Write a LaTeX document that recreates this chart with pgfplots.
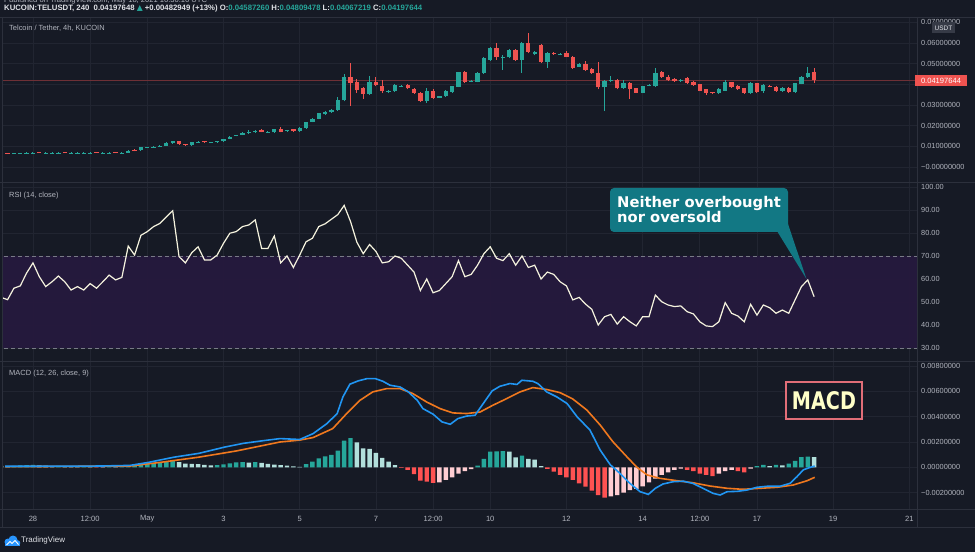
\documentclass[border=0pt]{standalone}
\usepackage{fontspec}
\setmainfont{Liberation Sans}
\newfontfamily\dejavu{DejaVu Sans}
\usepackage{graphicx}
\usepackage{pgfplots}
\pgfplotsset{compat=1.18}
\usepackage{pgfplotstable}

\definecolor{bg}{RGB}{22,26,37}
\definecolor{gridc}{RGB}{33,37,49}
\definecolor{sep}{RGB}{44,48,60}
\definecolor{txt}{RGB}{178,181,190}
\definecolor{hdr}{RGB}{225,227,232}
\definecolor{up}{RGB}{38,166,154}
\definecolor{down}{RGB}{239,83,80}
\definecolor{uplight}{RGB}{178,223,219}
\definecolor{downlight}{RGB}{255,205,210}
\definecolor{downhist}{RGB}{255,82,82}
\definecolor{band}{RGB}{38,25,62}
\definecolor{dashc}{RGB}{120,123,134}
\definecolor{rsiline}{RGB}{245,243,222}
\definecolor{macdblue}{RGB}{33,150,243}
\definecolor{macdorange}{RGB}{240,120,30}
\definecolor{callout}{RGB}{18,120,132}
\definecolor{boxred}{RGB}{225,110,120}
\definecolor{macdtxt}{RGB}{255,255,200}
\definecolor{pline}{RGB}{110,48,54}
\definecolor{tvblue}{RGB}{41,150,255}
\definecolor{badge}{RGB}{54,58,70}

% candles: index (4h bars, 0 = 28 Apr 00:00), open, high, low, close
\pgfplotstableread{
i o h l c
-3 .0066 .0069 .0065 .0068
-2 .0067 .0070 .0066 .0069
-1 .0068 .0071 .0067 .0070
0 .0068 .0071 .0067 .0070
2 .0068 .0071 .0067 .0070
3 .0068 .0071 .0067 .0070
4 .0068 .0071 .0067 .0070
6 .0068 .0071 .0067 .0070
7 .0068 .0071 .0067 .0070
8 .0068 .0071 .0067 .0070
9 .0068 .0071 .0067 .0070
11 .0068 .0071 .0067 .0070
12 .0068 .0071 .0067 .0070
14 .0068 .0071 .0067 .0070
15 .0070 .0081 .0069 .0079
17 .0080 .0098 .0079 .0095
18 .0093 .0099 .0091 .0096
19 .0096 .0101 .0094 .0099
20 .0099 .0106 .0097 .0104
21 .0104 .0121 .0102 .0118
22 .0115 .0128 .0113 .0126
25 .0106 .0123 .0104 .0121
26 .0120 .0125 .0118 .0123
28 .0118 .0122 .0116 .0120
29 .0120 .0126 .0118 .0124
30 .0124 .0136 .0122 .0134
31 .0137 .0148 .0135 .0146
32 .0150 .0157 .0148 .0154
33 .0155 .0167 .0153 .0165
34 .0165 .0178 .0160 .0168
35 .0168 .0178 .0166 .0176
37 .0167 .0172 .0165 .0170
38 .0168 .0184 .0166 .0182
40 .0173 .0180 .0171 .0178
42 .0172 .0192 .0170 .0190
43 .0188 .0220 .0186 .0218
44 .0218 .0235 .0216 .0232
45 .0232 .0262 .0230 .0260
46 .0255 .0272 .0252 .0268
47 .0266 .0282 .0262 .0276
48 .0276 .0340 .0272 .0322
49 .0322 .0450 .0318 .0437
53 .0355 .0440 .0348 .0410
56 .0365 .0374 .0360 .0370
57 .0368 .0400 .0362 .0397
58 .0389 .0395 .0386 .0393
62 .0318 .0380 .0312 .0370
64 .0336 .0345 .0333 .0342
65 .0345 .0372 .0340 .0367
66 .0362 .0392 .0358 .0390
67 .0387 .0462 .0385 .0460
69 .0413 .0420 .0410 .0418
70 .0412 .0458 .0410 .0455
71 .0455 .0530 .0452 .0528
72 .0518 .0580 .0515 .0576
74 .0528 .0540 .0470 .0532
75 .0530 .0570 .0526 .0566
77 .0520 .0605 .0455 .0600
79 .0545 .0562 .0540 .0557
81 .0510 .0555 .0480 .0550
83 .0545 .0552 .0540 .0549
86 .0485 .0503 .0483 .0500
90 .0385 .0420 .0270 .0416
91 .0417 .0440 .0410 .0421
93 .0380 .0420 .0377 .0406
96 .0360 .0393 .0357 .0390
97 .0393 .0400 .0390 .0397
98 .0390 .0480 .0387 .0455
102 .0417 .0425 .0412 .0421
108 .0358 .0380 .0355 .0375
109 .0370 .0420 .0367 .0410
113 .0358 .0409 .0354 .0405
115 .0366 .0400 .0360 .0397
118 .0368 .0385 .0365 .0382
120 .0363 .0408 .0360 .0405
121 .0402 .0440 .0400 .0436
122 .0436 .0482 .0432 .0455
}\greenc

\pgfplotstableread{
i o h l c
-4 .0068 .0069 .0065 .0066
1 .0072 .0073 .0068 .0069
5 .0072 .0073 .0068 .0069
10 .0072 .0073 .0068 .0069
13 .0071 .0072 .0067 .0068
16 .0083 .0085 .0076 .0079
23 .0124 .0127 .0108 .0110
24 .0110 .0112 .0104 .0106
27 .0124 .0126 .0117 .0119
36 .0180 .0182 .0168 .0170
39 .0183 .0195 .0168 .0170
41 .0182 .0184 .0170 .0172
50 .0437 .0503 .0295 .0407
51 .0410 .0425 .0360 .0373
52 .0380 .0385 .0330 .0355
54 .0412 .0435 .0390 .0395
55 .0392 .0420 .0360 .0366
59 .0395 .0400 .0376 .0380
60 .0378 .0382 .0355 .0360
61 .0360 .0362 .0315 .0320
63 .0370 .0375 .0330 .0335
68 .0460 .0465 .0408 .0412
73 .0576 .0600 .0520 .0530
76 .0566 .0570 .0515 .0520
78 .0600 .0650 .0550 .0557
80 .0590 .0595 .0505 .0510
82 .0551 .0555 .0542 .0547
84 .0553 .0560 .0530 .0533
85 .0533 .0536 .0476 .0480
87 .0500 .0515 .0466 .0470
88 .0474 .0478 .0452 .0455
89 .0455 .0510 .0375 .0385
92 .0420 .0428 .0376 .0380
94 .0406 .0412 .0330 .0375
95 .0380 .0383 .0357 .0360
99 .0460 .0463 .0432 .0436
100 .0436 .0445 .0416 .0420
101 .0428 .0432 .0412 .0415
103 .0430 .0434 .0403 .0406
104 .0410 .0414 .0392 .0395
105 .0400 .0404 .0366 .0370
106 .0375 .0378 .0348 .0358
107 .0362 .0365 .0352 .0358
110 .0410 .0413 .0384 .0387
111 .0392 .0396 .0374 .0378
112 .0380 .0383 .0354 .0358
114 .0405 .0408 .0358 .0363
116 .0393 .0396 .0387 .0389
117 .0387 .0390 .0364 .0368
119 .0382 .0385 .0360 .0363
123 .04587 .04809 .04067 .04197644
}\redc

\pgfplotstableread{
i v
-5 52
-4 51
-3 56
-2 57
-1 62.6
0 67
1 61
2 56.7
3 58.8
4 61.3
5 58.8
6 55.2
7 56.7
8 55.2
9 58
10 56
11 58.8
12 61.7
13 59.6
14 60.7
15 74.3
16 70.4
17 79
18 80.6
19 82.8
20 84.2
21 87
22 89.7
23 69.7
24 67
25 71.4
26 74
27 68.3
28 68.3
29 70.4
30 75.5
31 79.9
32 80.6
33 82.8
34 83.5
35 85.7
36 73.3
37 73.3
38 78.7
39 67
40 70
41 65
42 70.4
43 76.2
44 77.7
45 82.8
46 84
47 86
48 88
49 92
50 85
51 76
52 71
53 75
54 72
55 67
56 67.5
57 70
58 69
59 66
60 63
61 55
62 60
63 54
64 55
65 58
66 61
67 68
68 61
69 62
70 66
71 71
72 74
73 69
74 68
75 71
76 66
77 70
78 65
79 66
80 60
81 63
82 62
83 58.8
84 57
85 50.9
86 52
87 49.1
88 46.8
89 40
90 43.6
91 44.6
92 40.4
93 43.6
94 41.4
95 39.6
96 43.6
97 43.6
98 53
99 50.1
100 48.7
101 48
102 48.3
103 45.8
104 44.8
105 41.4
106 39.6
107 39.3
108 41.4
109 49.7
110 45.1
111 43.9
112 41.4
113 49
114 44.3
115 48.7
116 47.5
117 45.1
118 46.5
119 45.1
120 50.9
121 56.7
122 59.6
123 52.3
}\rsi

\pgfplotsset{
 tvpanel/.style={
  scale only axis, width=914bp,
  xmin=-4.72, xmax=139.2,
  axis line style={draw=none},
  major tick length=0pt,
  tick style={draw=none},
  scaled y ticks=false, scaled x ticks=false,
  ymajorgrids,
  grid style={draw=gridc, line width=0.7bp},
  yticklabel pos=right,
  yticklabel style={font=\fontsize{7.4}{8}\selectfont, text=txt, anchor=west, inner sep=0pt, xshift=4bp},
  axis background/.style={fill=bg},
 },
 upperpanel/.style={tvpanel, xtick=\empty},
 wick/.style={draw=none, mark=none, error bars/.cd, y dir=plus, y explicit, error mark=none, error bar style={draw=#1, line width=1bp}},
 body/.style={draw=none, mark=none, error bars/.cd, y dir=plus, y explicit, error mark=none, error bar style={draw=#1, line width=4.3bp}},
 hist/.style={ybar, bar width=0.7, bar shift=0pt, fill=#1, draw=none},
}
% vertical time grid for the upper panels (same positions as the time ticks)
\newcommand\timegrid[2]{%
  \pgfplotsinvokeforeach{0,9,18,30,42,54,63,72,84,96,105,114,126,138}{%
    \draw[gridc, line width=0.7bp] (axis cs:##1,#1) -- (axis cs:##1,#2);}}

\begin{document}
\begin{tikzpicture}
\useasboundingbox (0bp,0bp) rectangle (975bp,552bp);
\clip (0bp,0bp) rectangle (975bp,552bp);
\fill[bg] (0bp,0bp) rectangle (975bp,552bp);

% ---------- price panel ----------
\begin{axis}[upperpanel, at={(3bp,369bp)}, anchor=south west, height=165bp,
  ymin=-0.00774, ymax=0.0721,
  ytick={0,0.01,0.02,0.03,0.04,0.05,0.06,0.07},
  yticklabels={−0.00000000,0.01000000,0.02000000,0.03000000,{},0.05000000,0.06000000,0.07000000}]
\timegrid{-0.01}{0.08}
\addplot[pline, line width=0.6bp] coordinates {(-5,0.04197644) (140,0.04197644)};
\addplot[wick=up] table[x=i, y=l, y error plus expr=\thisrow{h}-\thisrow{l}] {\greenc};
\addplot[wick=down] table[x=i, y=l, y error plus expr=\thisrow{h}-\thisrow{l}] {\redc};
\addplot[body=up] table[x=i, y=o, y error plus expr=\thisrow{c}-\thisrow{o}] {\greenc};
\addplot[body=down] table[x=i, y=c, y error plus expr=\thisrow{o}-\thisrow{c}] {\redc};
\end{axis}

% ---------- RSI panel ----------
\begin{axis}[upperpanel, at={(3bp,190bp)}, anchor=south west, height=179bp,
  ymin=23.91, ymax=101.74,
  ytick={30,40,50,60,70,80,90,100},
  yticklabels={30.00,40.00,50.00,60.00,70.00,80.00,90.00,100.00}]
\timegrid{20}{105}
\addplot[fill=band, draw=none, fill opacity=0.92] coordinates {(-10,30) (150,30) (150,70) (-10,70) (-10,30)};
\addplot[dashc, line width=0.8bp, dash pattern=on 4bp off 3bp] coordinates {(-10,70) (150,70)};
\addplot[dashc, line width=0.8bp, dash pattern=on 4bp off 3bp] coordinates {(-10,30) (150,30)};
\addplot[rsiline, line width=1.2bp] table[x=i, y=v] {\rsi};
\end{axis}

% ---------- MACD panel ----------
\begin{axis}[tvpanel, at={(3bp,42bp)}, anchor=south west, height=148bp,
  ymin=-0.003375, ymax=0.008324,
  ytick={-0.002,0,0.002,0.004,0.006,0.008},
  yticklabels={−0.00200000,0.00000000,0.00200000,0.00400000,0.00600000,0.00800000},
  xmajorgrids,
  xtick={0,9,18,30,42,54,63,72,84,96,105,114,126,138},
  xticklabels={28,12:00,May,3,5,7,12:00,10,12,14,12:00,17,19,21},
  xticklabel style={font=\fontsize{7.6}{8}\selectfont, text=txt, anchor=center, inner sep=0pt, yshift=-9bp}]
\addplot[hist=up] coordinates {(-3,0.00012) (-2,0.00015) (-1,0.00018) (0,0.0002) (4,0.00011) (8,0.00007) (12,0.00004) (14,0.00005) (15,0.00012) (16,0.00015) (17,0.00025) (18,0.0003) (19,0.00035) (20,0.0004) (21,0.00048) (22,0.00055) (29,0.00018) (30,0.00024) (31,0.00032) (32,0.00038) (33,0.0004) (35,0.0004) (43,0.00026) (44,0.00045) (45,0.00071) (46,0.00087) (47,0.00098) (48,0.00132) (49,0.00211) (50,0.0023) (70,0.00013) (71,0.00066) (72,0.00124) (73,0.00126) (74,0.00128) (77,0.00092) (114,0.0001) (115,0.0002) (117,0.0002) (119,0.0003) (120,0.0005) (121,0.0008) (122,0.00085)};
\addplot[hist=uplight] coordinates {(-5,0.00012) (-4,0.0001) (1,0.00016) (2,0.00013) (3,0.0001) (5,0.00009) (6,0.00007) (7,0.00006) (9,0.00005) (13,0.00003) (23,0.0004) (24,0.0003) (25,0.00028) (26,0.00026) (27,0.0002) (28,0.00015) (34,0.00036) (36,0.00035) (37,0.00028) (38,0.00022) (39,0.00018) (40,0.00013) (41,0.00008) (42,0.00003) (51,0.00198) (52,0.0015) (53,0.00145) (54,0.00114) (55,0.00074) (56,0.00045) (57,0.00018) (75,0.00124) (76,0.00079) (78,0.00066) (79,0.0006) (80,0.0001) (116,0.0001) (118,0.00015) (123,0.0008)};
\addplot[hist=downhist] coordinates {(10,-0.00003) (58,-0.00004) (59,-0.00021) (60,-0.00053) (61,-0.00106) (62,-0.00113) (63,-0.00124) (81,-0.00013) (82,-0.00034) (83,-0.0006) (84,-0.0008) (85,-0.001) (86,-0.00127) (87,-0.00153) (88,-0.00185) (89,-0.00219) (90,-0.0024) (103,-0.0002) (104,-0.0003) (105,-0.0005) (106,-0.0006) (107,-0.0007) (111,-0.0003) (112,-0.0004)};
\addplot[hist=downlight] coordinates {(11,-0.00002) (64,-0.0012) (65,-0.001) (66,-0.0008) (67,-0.0005) (68,-0.0003) (69,-0.00015) (91,-0.0023) (92,-0.0022) (93,-0.002) (94,-0.0018) (95,-0.0017) (96,-0.0015) (97,-0.0012) (98,-0.0009) (99,-0.0006) (100,-0.0004) (101,-0.0002) (102,-0.0001) (108,-0.0005) (109,-0.0003) (110,-0.0002) (113,-0.0001)};
\addplot[macdorange, line width=1.6bp] coordinates {(-4.4,0.00005) (15.3,0.0001) (20.2,0.0004) (26.1,0.0008) (32.1,0.0013) (38.9,0.002) (42,0.00215) (44.1,0.00235) (47.2,0.00306) (49.4,0.00425) (51.5,0.0053) (53.5,0.00596) (55.7,0.00622) (57.8,0.00622) (59.8,0.00583) (62,0.00516) (64.1,0.00464) (66.1,0.0043) (68.3,0.00425) (70.4,0.00437) (72.4,0.0049) (74.6,0.00543) (76.7,0.00596) (78.7,0.0063) (80.9,0.00615) (83,0.0059) (85,0.0054) (87.2,0.00453) (89.3,0.00335) (91.3,0.00203) (93.5,0.00084) (95.1,0) (96.7,-0.0006) (98.7,-0.00087) (101.4,-0.00106) (103.9,-0.00122) (106.6,-0.00148) (109.3,-0.00166) (111.8,-0.00174) (114.5,-0.00166) (117.2,-0.00158) (119.7,-0.0014) (121.9,-0.00106) (123.1,-0.00079)};
\addplot[macdblue, line width=1.6bp] coordinates {(-4.4,0.00008) (10.6,0.0001) (15.3,0.00015) (18.3,0.0004) (22.2,0.0008) (26.1,0.0011) (30.2,0.0016) (33.2,0.0019) (36.2,0.0021) (38.9,0.00227) (42,0.0022) (44.1,0.00266) (46.3,0.00346) (47.9,0.00425) (48.8,0.00556) (49.9,0.00657) (51.2,0.00683) (52.6,0.00701) (53.9,0.00701) (55.1,0.0068) (56.2,0.00649) (57.8,0.00635) (59.1,0.00596) (60.5,0.0053) (61.4,0.00464) (63,0.0042) (64.4,0.00359) (65.7,0.0034) (66.9,0.00385) (68.3,0.00405) (69.6,0.00411) (70.9,0.00504) (72.3,0.00604) (73.5,0.0064) (75.1,0.00662) (76.2,0.00655) (77,0.00688) (78.7,0.0068) (79.5,0.00662) (80.9,0.00596) (82.5,0.00556) (84.1,0.00504) (85.7,0.00398) (87.7,0.00295) (89.3,0.00137) (90.9,0.0002) (92.4,-0.00047) (94,-0.00127) (95.6,-0.00193) (96.9,-0.00214) (98,-0.00166) (99.2,-0.00132) (100.8,-0.00114) (102.4,-0.0011) (103.9,-0.00127) (105.5,-0.00166) (107.1,-0.00206) (108.2,-0.00219) (109.3,-0.00193) (110.9,-0.0019) (112.4,-0.0018) (114,-0.00158) (115.6,-0.0015) (117.6,-0.0015) (119.2,-0.00127) (120.3,-0.00074) (121.3,-0.0002) (122.4,0) (123.1,0.0001)};
\end{axis}

\begin{scope}[x=1bp,y=1bp]
% ---------- separators ----------
\draw[sep, line width=1bp] (0,534) -- (975,534);
\draw[sep, line width=1bp] (0,369) -- (975,369);
\draw[sep, line width=1bp] (0,190) -- (975,190);
\draw[sep, line width=1bp] (0,42) -- (975,42);
\draw[sep, line width=1bp] (0,24) -- (975,24);
\draw[sep, line width=1bp] (917,24) -- (917,534);
\draw[sep, line width=1bp] (2.5,24) -- (2.5,534);

% ---------- header ----------
\node[anchor=base west, inner sep=0pt, text=txt] at (4,549.5) {\fontsize{7.6}{9}\selectfont Published on TradingView.com, May 18, 2021 16:30:16 UTC};
\node[anchor=base west, inner sep=0pt] at (4,541) {\resizebox{418bp}{!}{\bfseries\fontsize{7.6}{9}\selectfont\color{hdr}KUCOIN:TELUSDT, 240\ \ 0.04197648 {\color{up}\dejavu ▲} +0.00482949 (+13\%) O:{\color{up}0.04587260} H:{\color{up}0.04809478} L:{\color{up}0.04067219} C:{\color{up}0.04197644}}};

% panel titles
\node[anchor=west, inner sep=0pt, text=txt] at (9,524) {\fontsize{7.5}{9}\selectfont Telcoin / Tether, 4h, KUCOIN};
\node[anchor=west, inner sep=0pt, text=txt] at (9,356) {\fontsize{7.5}{9}\selectfont RSI (14, close)};
\node[anchor=west, inner sep=0pt, text=txt] at (9,178) {\fontsize{7.5}{9}\selectfont MACD (12, 26, close, 9)};

% scale badges
\fill[badge] (932,519) rectangle (955,529.5);
\node[text=hdr, inner sep=0pt] at (943.5,524.2) {\fontsize{6.5}{7}\selectfont USDT};
\fill[down] (915,466) rectangle (967,477);
\node[text=white, inner sep=0pt] at (941,471.5) {\fontsize{7.6}{8}\selectfont 0.04197644};

% callout
\fill[callout] (777,321) -- (788,328) -- (806.5,273) -- cycle;
\fill[callout, rounded corners=4bp] (610,320) rectangle (788,364);
\node[anchor=base west, inner sep=0pt, text=white] at (617,345) {\dejavu\bfseries\fontsize{14.8}{15}\selectfont Neither overbought};
\node[anchor=base west, inner sep=0pt, text=white] at (617,330) {\dejavu\bfseries\fontsize{14.8}{15}\selectfont nor oversold};

% MACD box
\draw[boxred, line width=1.8bp, fill=bg] (786,133) rectangle (862,170);
\node[inner sep=0pt] at (824,151.5) {\resizebox{64bp}{18bp}{\color{macdtxt}\dejavu\bfseries MACD}};

% logo (cloud with mountain line)
\fill[tvblue] (5,6) rectangle (19.5,9.5);
\fill[tvblue] (8,10) circle (3.5);
\fill[tvblue] (13,12) circle (4.5);
\fill[tvblue] (17.5,9) circle (2.8);
\draw[white, line width=0.9bp, line join=round] (6.5,7) -- (10,10.5) -- (12,8.5) -- (15,11.5) -- (18.5,7.5);
\node[anchor=west, inner sep=0pt, text=hdr] at (21,11.5) {\fontsize{8}{9}\selectfont TradingView};
\end{scope}
\end{tikzpicture}
\end{document}
